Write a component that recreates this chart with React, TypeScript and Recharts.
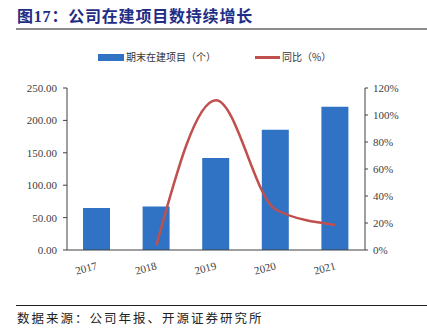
import React from 'react';
import { ComposedChart, Bar, Line, XAxis, YAxis, Legend } from 'recharts';

const years = ['2017', '2018', '2019', '2020', '2021'];
const projects = [65, 67.2, 142, 185.6, 221.2];
const yoy: (number | null)[] = [null, 3.5, 111, 30, 18.6];
const leftTicks = [0, 50, 100, 150, 200, 250];
const rightTicks = [0, 20, 40, 60, 80, 100, 120];

const seriesNames = { bar: '期末在建项目（个）', line: '同比（%）' };

const data = years.map((y, i) => ({ year: y, projects: projects[i], yoy: yoy[i] }));

const BAR_COLOR = '#3072C4';
const LINE_COLOR = '#C0504D';
const AXIS_COLOR = '#404040';
const SERIF = '"Liberation Serif", "Times New Roman", serif';

const XTick = (props: any) => {
  const { x, y, payload } = props;
  const ax = x + 1;
  const ay = y + 11;
  return (
    <text
      x={ax}
      y={ay}
      textAnchor="end"
      transform={`rotate(-15, ${ax}, ${ay})`}
      fontFamily={SERIF}
      fontSize={11}
      fill={AXIS_COLOR}
    >
      {payload.value}
    </text>
  );
};

const LegendContent = () => (
  <div style={{ position: 'relative', height: 14, width: 427, fontFamily: '"Noto Sans CJK SC", sans-serif', fontSize: 10, color: '#333' }}>
    <div style={{ position: 'absolute', left: 98, top: 4, width: 26, height: 7, background: BAR_COLOR }} />
    <div style={{ position: 'absolute', left: 126, top: 0, lineHeight: '14px', whiteSpace: 'nowrap' }}>{seriesNames.bar}</div>
    <div style={{ position: 'absolute', left: 255, top: 6, width: 25, height: 2.5, background: LINE_COLOR }} />
    <div style={{ position: 'absolute', left: 282, top: 0, lineHeight: '14px', whiteSpace: 'nowrap' }}>{seriesNames.line}</div>
  </div>
);

export default function App() {
  return (
    <div style={{ position: 'absolute', left: 0, top: 0, width: 427, height: 336, background: '#fff', overflow: 'hidden' }}>
      <div
        style={{
          position: 'absolute',
          left: 17,
          top: 8,
          fontFamily: '"Liberation Serif", "Noto Sans CJK SC", serif',
          fontWeight: 'bold',
          fontSize: 16,
          lineHeight: '18px',
          letterSpacing: 0.8,
          color: '#1F2D86',
          whiteSpace: 'nowrap',
        }}
      >
        图17：公司在建项目数持续增长
      </div>
      <div style={{ position: 'absolute', left: 16, top: 28, width: 411, height: 2, background: '#8c8c8c' }} />
      <div style={{ position: 'absolute', left: 0, top: 0 }}>
        <ComposedChart width={427} height={336} data={data} margin={{ top: 74, right: 12, bottom: 56, left: 17 }}>
          <Legend verticalAlign="top" content={<LegendContent />} wrapperStyle={{ top: 50, left: 0, width: 427 }} />
          <XAxis
            dataKey="year"
            height={30}
            tickLine={false}
            tick={<XTick />}
            axisLine={{ stroke: AXIS_COLOR }}
            interval={0}
          />
          <YAxis
            yAxisId="left"
            width={50}
            domain={[0, 250]}
            ticks={leftTicks}
            tickFormatter={(v: number) => v.toFixed(2)}
            tickSize={4}
            tickMargin={6}
            tick={{ fontFamily: SERIF, fontSize: 11, fill: AXIS_COLOR }}
            axisLine={{ stroke: AXIS_COLOR }}
            tickLine={{ stroke: AXIS_COLOR }}
          />
          <YAxis
            yAxisId="right"
            orientation="right"
            width={50}
            domain={[0, 120]}
            ticks={rightTicks}
            tickFormatter={(v: number) => `${v}%`}
            tickSize={3}
            tickMargin={5}
            tick={{ fontFamily: SERIF, fontSize: 11, fill: AXIS_COLOR, textAnchor: 'start' }}
            axisLine={{ stroke: AXIS_COLOR }}
            tickLine={{ stroke: AXIS_COLOR }}
          />
          <Bar yAxisId="left" dataKey="projects" name={seriesNames.bar} fill={BAR_COLOR} barSize={27} isAnimationActive={false} />
          <Line
            yAxisId="right"
            dataKey="yoy"
            name={seriesNames.line}
            type="monotone"
            stroke={LINE_COLOR}
            strokeWidth={2.5}
            dot={false}
            activeDot={false}
            connectNulls={false}
            isAnimationActive={false}
          />
        </ComposedChart>
      </div>
      <div style={{ position: 'absolute', left: 16, top: 305, width: 411, height: 1, background: '#222' }} />
      <div
        style={{
          position: 'absolute',
          left: 17,
          top: 310,
          fontFamily: '"Noto Sans CJK SC", sans-serif',
          fontSize: 12.5,
          lineHeight: '16px',
          letterSpacing: 2,
          color: '#222',
          whiteSpace: 'nowrap',
        }}
      >
        数据来源：公司年报、开源证券研究所
      </div>
    </div>
  );
}
